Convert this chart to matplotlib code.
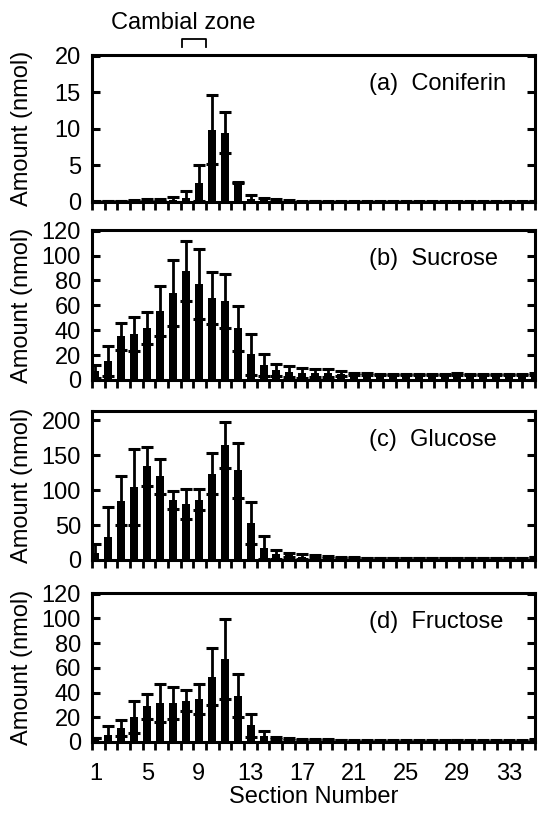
import numpy as np
import matplotlib
matplotlib.use('Agg')
import matplotlib.pyplot as plt
from matplotlib.transforms import blended_transform_factory

plt.rcParams['font.family'] = ['Liberation Sans', 'DejaVu Sans']

sections = list(range(1, 36))
xtick_labels = [1, 5, 9, 13, 17, 21, 25, 29, 33]

coniferin = [0.1, 0.15, 0.15, 0.2, 0.25, 0.3, 0.3, 0.5, 2.6, 9.9, 9.5, 2.7, 0.35, 0.25, 0.2,
             0.15, 0.1, 0.15, 0.1, 0.1, 0.05, 0.05, 0.05, 0.05, 0.1, 0.1, 0.05, 0.1, 0.1, 0.05,
             0.05, 0.1, 0.1, 0.1, 0.15]
coniferin_sd = [0.05, 0.05, 0.05, 0.05, 0.1, 0.1, 0.35, 1.0, 2.5, 4.7, 2.8, 0.1, 0.65, 0.3, 0.15,
                0.1, 0.05, 0.05, 0.05, 0.05, 0.05, 0.05, 0.05, 0.05, 0.05, 0.05, 0.05, 0.05, 0.05, 0.05,
                0.05, 0.05, 0.05, 0.05, 0.05]

sucrose = [7, 15, 35, 37, 42, 55.5, 70, 87.5, 77, 66, 63.5, 41.5, 20.5, 12, 8,
           6.7, 6, 5.8, 5.5, 5.2, 5, 4.8, 4.6, 4.5, 4.5, 4.3, 4.5, 4.6, 4.7, 4.6,
           4.6, 4.6, 4.7, 4.7, 5]
sucrose_sd = [5, 12, 10.5, 14, 12.8, 20, 26.5, 24, 28, 21, 22, 18, 16.5, 9, 5,
              4.5, 4, 3.2, 3, 1.8, 1, 0.5, 0.5, 0.5, 0.5, 0.5, 0.5, 0.5, 1.0, 0.5,
              0.5, 0.5, 0.5, 0.5, 1.0]

glucose = [10, 32.5, 84.5, 104, 134, 120, 86, 80, 86, 123.5, 164.6, 128.3, 52.8, 17.5, 8,
           6.6, 5, 4.5, 4, 3.8, 3.5, 3, 3, 3, 3, 3, 3, 3, 3, 3,
           3, 3, 3, 3, 4.5]
glucose_sd = [13, 43, 35, 54, 28, 25, 13, 21, 15, 29, 33, 39, 30.5, 16.5, 7,
              3, 3, 2, 1.5, 1, 1, 0.5, 0.5, 0.5, 0.5, 0.5, 0.5, 0.5, 0.5, 0.5,
              0.5, 0.5, 0.5, 0.5, 0.5]

fructose = [3.2, 6, 11.4, 20, 29, 31.6, 31.6, 33.5, 35.1, 52.7, 66.8, 37.6, 13.5, 4.6, 3.2,
            2.5, 2.2, 2, 1.8, 1.6, 1.2, 1.2, 1.2, 1.2, 1.2, 1.2, 1.2, 1.2, 1.6, 1.2,
            1.2, 1.4, 1.5, 1.5, 2.2]
fructose_sd = [0.3, 7.2, 6.7, 13, 10.2, 15.7, 12.7, 8.4, 12.2, 23, 32.4, 17, 9.5, 4.6, 0.8,
               0.5, 0.5, 0.3, 0.3, 0.3, 0.3, 0.3, 0.3, 0.3, 0.3, 0.3, 0.3, 0.3, 0.3, 0.3,
               0.3, 0.3, 0.3, 0.3, 0.3]

panel_titles = ['(a)  Coniferin', '(b)  Sucrose', '(c)  Glucose', '(d)  Fructose']
panel_means = [coniferin, sucrose, glucose, fructose]
panel_sds = [coniferin_sd, sucrose_sd, glucose_sd, fructose_sd]
panel_ylims = [(0, 20.1), (0, 120.5), (0, 213), (0, 120.5)]
panel_yticks = [[0, 5, 10, 15, 20], [0, 20, 40, 60, 80, 100, 120],
                [0, 50, 100, 150, 200], [0, 20, 40, 60, 80, 100, 120]]

FS = 17
W, H = 541, 814
fig = plt.figure(figsize=(W / 100, H / 100), dpi=100)

left_px, right_px = 92, 535
panel_px = [(55, 202), (230, 380), (411, 560), (593, 742)]
xlim = (0.73, 35.0)

axes = []
for i, (top, bot) in enumerate(panel_px):
    ax = fig.add_axes([left_px / W, 1 - bot / H, (right_px - left_px) / W, (bot - top) / H])
    axes.append(ax)
    ax.bar(sections, panel_means[i], width=0.62, color='black', zorder=2)
    ax.errorbar(sections, panel_means[i], yerr=panel_sds[i], fmt='none', ecolor='black',
                elinewidth=2.0, capsize=4.2, capthick=2.2, zorder=3)
    ax.set_xlim(*xlim)
    ax.set_ylim(*panel_ylims[i])
    ax.set_yticks(panel_yticks[i])
    ax.set_xticks(xtick_labels)
    ax.set_xticks(np.linspace(xlim[0], xlim[1], 36), minor=True)
    for s in ax.spines.values():
        s.set_linewidth(2.2)
        s.set_zorder(4)
    ax.tick_params(axis='y', which='major', direction='in', length=5.5, width=2.2,
                   left=True, right=True, labelsize=FS, pad=8)
    ax.tick_params(axis='x', which='major', length=0, labelsize=FS, pad=15)
    ax.tick_params(axis='x', which='minor', direction='out', length=6, width=2.0)
    if i < 3:
        ax.tick_params(axis='x', which='major', labelbottom=False)
    ax.set_ylabel('Amount (nmol)', fontsize=FS)
    ax.yaxis.set_label_coords(-0.133, 0.5)
    ax.text(0.625, 0.805, panel_titles[i], transform=ax.transAxes, ha='left', va='center',
            fontsize=FS)

axes[3].set_xlabel('Section Number', fontsize=FS, labelpad=1)

# Cambial zone bracket
ax0 = axes[0]
tr = blended_transform_factory(ax0.transData, ax0.transAxes)
ax0.plot([7.66, 7.66, 9.54, 9.54], [1.053, 1.107, 1.107, 1.053], transform=tr,
         clip_on=False, color='black', lw=1.3)
ax0.text(7.78, 1.175, 'Cambial zone', transform=tr, ha='center', va='baseline', fontsize=FS)

fig.savefig('out.png', dpi=100)
